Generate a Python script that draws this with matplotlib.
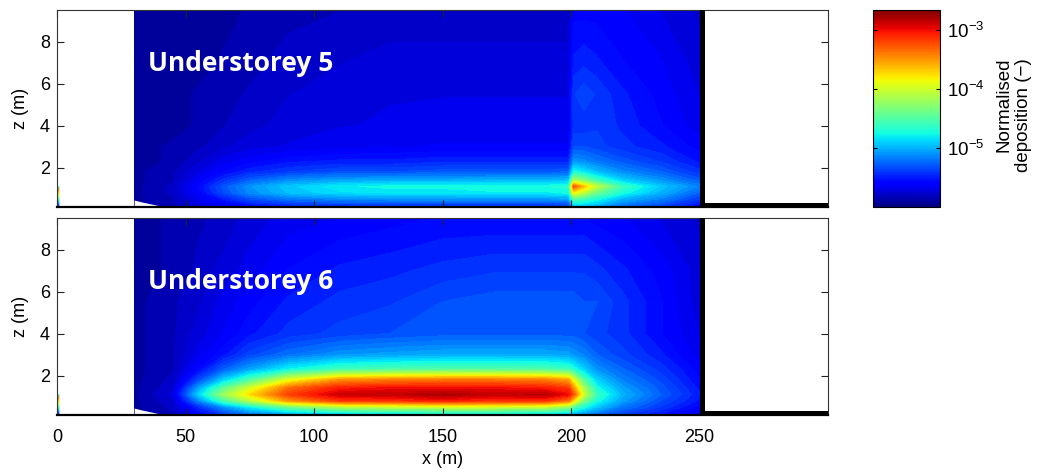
import numpy as np
import matplotlib
matplotlib.use("Agg")
import matplotlib.pyplot as plt
from matplotlib.colors import LogNorm
import matplotlib.cm as cm

plt.rcParams['font.family'] = ['Liberation Sans', 'DejaVu Sans']
plt.rcParams['mathtext.fontset'] = 'custom'
plt.rcParams['mathtext.rm'] = 'Liberation Sans'
plt.rcParams['mathtext.it'] = 'Liberation Sans:italic'

# grid nodes of the deposition field (m)
x_nodes = [30, 45, 55, 65, 75, 90, 110, 130, 150, 170, 190, 199, 201, 205, 210, 220, 235, 250]
z_nodes = [0.1, 0.5, 0.8, 1.1, 1.4, 1.8, 2.3, 3.0, 4.0, 5.5, 7.0, 9.5]

# log10 of normalised deposition, rows = z_nodes, columns = x_nodes
log_dep_u5 = [
    [-5.90, -5.83, -5.73, -5.67, -5.60, -5.53, -5.50, -5.50, -5.50, -5.50, -5.50, -5.50, -5.00, -5.00, -5.06, -5.27, -5.40, -5.60],
    [-5.90, -5.83, -5.67, -5.50, -5.33, -5.20, -5.13, -5.10, -5.10, -5.10, -5.10, -5.06, -4.50, -4.60, -4.73, -5.00, -5.16, -5.40],
    [-5.90, -5.80, -5.60, -5.33, -5.13, -4.96, -4.86, -4.83, -4.83, -4.80, -4.80, -4.76, -3.83, -4.06, -4.40, -4.73, -5.00, -5.27],
    [-5.90, -5.80, -5.57, -5.30, -5.10, -4.93, -4.80, -4.76, -4.76, -4.73, -4.73, -4.70, -3.26, -3.66, -4.06, -4.60, -4.93, -5.16],
    [-5.90, -5.83, -5.63, -5.43, -5.27, -5.13, -5.06, -5.03, -5.03, -5.00, -5.00, -4.96, -4.16, -4.33, -4.60, -4.90, -5.10, -5.30],
    [-5.90, -5.83, -5.70, -5.57, -5.47, -5.40, -5.33, -5.33, -5.30, -5.30, -5.30, -5.27, -4.73, -4.83, -4.96, -5.13, -5.27, -5.43],
    [-5.90, -5.87, -5.77, -5.67, -5.60, -5.53, -5.50, -5.50, -5.47, -5.47, -5.47, -5.47, -5.10, -5.13, -5.20, -5.30, -5.40, -5.53],
    [-5.90, -5.87, -5.83, -5.77, -5.72, -5.69, -5.66, -5.64, -5.63, -5.63, -5.63, -5.63, -5.33, -5.33, -5.37, -5.43, -5.50, -5.60],
    [-5.90, -5.90, -5.87, -5.82, -5.78, -5.73, -5.70, -5.69, -5.67, -5.67, -5.67, -5.67, -5.43, -5.43, -5.40, -5.47, -5.57, -5.67],
    [-5.90, -5.90, -5.87, -5.84, -5.81, -5.76, -5.73, -5.70, -5.70, -5.70, -5.70, -5.70, -5.40, -5.35, -5.40, -5.50, -5.60, -5.70],
    [-5.90, -5.90, -5.90, -5.87, -5.84, -5.79, -5.76, -5.73, -5.73, -5.73, -5.73, -5.73, -5.50, -5.47, -5.50, -5.57, -5.63, -5.73],
    [-5.90, -5.90, -5.90, -5.90, -5.87, -5.84, -5.82, -5.80, -5.80, -5.80, -5.80, -5.80, -5.60, -5.60, -5.60, -5.63, -5.70, -5.77],
]

log_dep_u6 = [
    [-5.90, -5.83, -5.60, -5.43, -5.27, -5.13, -5.06, -5.00, -5.00, -5.00, -5.00, -5.06, -5.10, -5.16, -5.27, -5.40, -5.53, -5.67],
    [-5.90, -5.80, -5.45, -5.10, -4.80, -4.40, -4.13, -4.06, -4.00, -4.00, -4.06, -4.26, -4.50, -4.73, -4.93, -5.20, -5.40, -5.60],
    [-5.90, -5.77, -5.15, -4.55, -4.10, -3.50, -3.16, -3.13, -3.06, -3.13, -3.13, -3.39, -3.73, -4.33, -4.73, -5.06, -5.33, -5.53],
    [-5.90, -5.73, -4.90, -4.20, -3.75, -3.20, -2.89, -2.86, -2.79, -2.86, -2.83, -3.00, -3.26, -4.00, -4.60, -5.00, -5.27, -5.50],
    [-5.90, -5.77, -5.05, -4.45, -3.98, -3.35, -3.06, -3.00, -3.00, -3.00, -3.06, -3.16, -3.50, -4.16, -4.73, -5.06, -5.30, -5.53],
    [-5.90, -5.80, -5.36, -4.90, -4.53, -3.93, -3.50, -3.43, -3.40, -3.40, -3.43, -3.56, -3.93, -4.50, -4.90, -5.16, -5.35, -5.57],
    [-5.90, -5.83, -5.57, -5.27, -5.05, -4.78, -4.58, -4.53, -4.50, -4.50, -4.53, -4.60, -4.70, -4.90, -5.10, -5.26, -5.42, -5.60],
    [-5.90, -5.83, -5.67, -5.53, -5.36, -5.22, -5.10, -5.06, -5.03, -5.03, -5.03, -5.06, -5.10, -5.16, -5.27, -5.37, -5.50, -5.67],
    [-5.90, -5.83, -5.73, -5.63, -5.53, -5.43, -5.37, -5.33, -5.30, -5.30, -5.30, -5.30, -5.30, -5.33, -5.37, -5.43, -5.57, -5.70],
    [-5.90, -5.83, -5.77, -5.67, -5.60, -5.50, -5.43, -5.40, -5.33, -5.30, -5.30, -5.30, -5.30, -5.33, -5.33, -5.43, -5.57, -5.73],
    [-5.90, -5.87, -5.80, -5.73, -5.67, -5.57, -5.50, -5.47, -5.43, -5.40, -5.40, -5.40, -5.40, -5.40, -5.43, -5.50, -5.60, -5.73],
    [-5.90, -5.87, -5.83, -5.80, -5.73, -5.67, -5.63, -5.60, -5.57, -5.57, -5.57, -5.57, -5.57, -5.57, -5.60, -5.63, -5.70, -5.77],
]

# thin source strip at x = 0
edge_z = [0.15, 0.35, 0.55, 0.75, 0.95, 1.1]
edge_log_dep = [-5.5, -5.0, -4.4, -3.9, -3.4, -4.5]

# ground surface at the upwind edge of the canopy
ground_x = [30, 33, 36, 39, 42, 45]
ground_z = [0.45, 0.36, 0.28, 0.2, 0.14, 0.1]

panel_names = ['Understorey 5', 'Understorey 6']
panel_text_z = [6.6, 6.1]
cb_ticks = [1e-5, 1e-4, 1e-3]

log_min, log_max = -6.0, -2.66
levels = np.linspace(log_min, log_max, 56)

fig = plt.figure(figsize=(10.41, 4.70), dpi=100)
ax_top = fig.add_axes([0.0548, 0.5596, 0.7406, 0.419])
ax_bot = fig.add_axes([0.0548, 0.1170, 0.7406, 0.419])
cax = fig.add_axes([0.8386, 0.5596, 0.0644, 0.419])

for ax, data, name, tz in zip([ax_top, ax_bot], [log_dep_u5, log_dep_u6], panel_names, panel_text_z):
    X, Z = np.meshgrid(x_nodes, z_nodes)
    ax.contourf(X, Z, np.array(data), levels=levels, cmap='jet',
                vmin=log_min, vmax=log_max, extend='both', zorder=1)
    # thin strip at the domain inlet
    ex, ez = np.meshgrid([0, 0.7], edge_z)
    ev = np.column_stack([edge_log_dep, edge_log_dep])
    ax.pcolormesh(ex, ez, ev, cmap='jet', vmin=log_min, vmax=log_max,
                  shading='gouraud', zorder=1)
    ax.fill_between(ground_x, 0, ground_z, color='white', lw=0, zorder=2)
    # wall at x = 250
    ax.axvspan(250, 252, color='black', lw=0, zorder=3)
    ax.fill_between([250, 300], 0, 0.3, color='black', lw=0, zorder=3)

    ax.text(35.5, tz, name, color='white', fontsize=19, fontweight='bold',
            family=['Open Sans', 'DejaVu Sans'], ha='left', va='baseline', zorder=4)

    ax.set_xlim(0, 300)
    ax.set_ylim(0.12, 9.5)
    ax.set_yticks([2, 4, 6, 8])
    ax.set_xticks([0, 50, 100, 150, 200, 250])
    ax.tick_params(direction='in', length=5, width=0.8, top=True, right=True,
                   labelsize=13, colors='#222222', labelcolor='black')
    ax.tick_params(axis='x', pad=10)
    ax.tick_params(axis='y', pad=5)
    ax.set_ylabel('z (m)', fontsize=13, labelpad=8)
    for s in ax.spines.values():
        s.set_linewidth(0.8)
        s.set_color('#333333')
    ax.spines['bottom'].set_linewidth(1.6)
    ax.spines['bottom'].set_color('black')

ax_top.set_xticklabels([])
ax_bot.set_xlabel('x (m)', fontsize=13, labelpad=4)

sm = cm.ScalarMappable(norm=LogNorm(10 ** log_min, 10 ** log_max), cmap='jet')
cb = fig.colorbar(sm, cax=cax)
cb.set_ticks(cb_ticks)
cb.minorticks_off()
cb.ax.tick_params(direction='in', length=3, width=0.8, left=True, right=True,
                  labelsize=13.5, pad=5)
cb.outline.set_linewidth(0.8)
fig.text(1014 / 1041, 1 - 58 / 470, 'Normalised\ndeposition (\u2212)', rotation=90,
         fontsize=13.5, ha='center', va='top', multialignment='right', linespacing=1.2)

fig.savefig('out.png', dpi=100)
